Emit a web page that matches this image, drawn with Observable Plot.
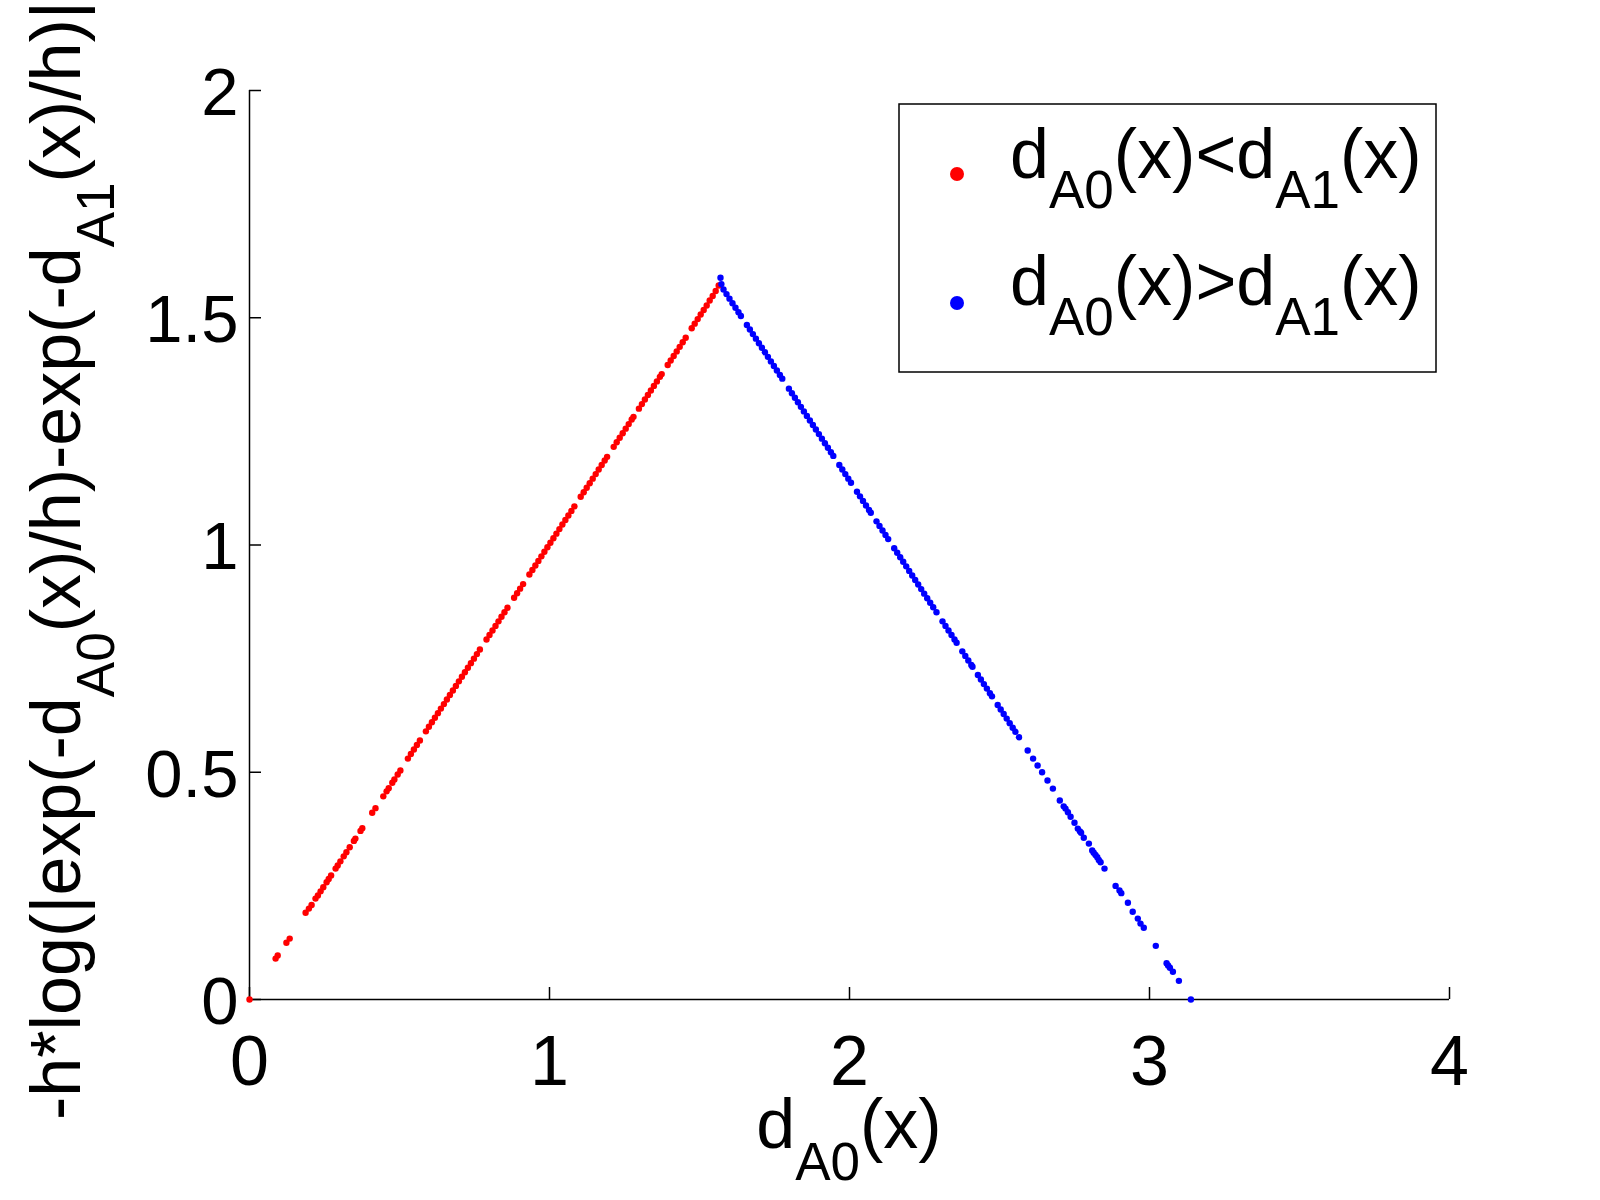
<!DOCTYPE html>
<html><head><meta charset="utf-8">
<script src="https://cdn.jsdelivr.net/npm/d3@7"></script>
<script src="https://cdn.jsdelivr.net/npm/@observablehq/plot@0.6"></script>
<style>body{margin:0;background:#fff}</style>
</head><body><div id="chart"></div>
<script>
// Tick values
const xTicks = [0, 1, 2, 3, 4];
const yTicks = [0, 0.5, 1, 1.5, 2];

// Legend entries: [text part, isSubscript]
const legendRed = [["d", false], ["A0", true], ["(x)<d", false], ["A1", true], ["(x)", false]];
const legendBlue = [["d", false], ["A0", true], ["(x)>d", false], ["A1", true], ["(x)", false]];
const xLabelParts = [["d", false], ["A0", true], ["(x)", false]];
const yLabelParts = [["-h*log(|exp(-d", false], ["A0", true], ["(x)/h)-exp(-d", false], ["A1", true], ["(x)/h)|", false]];

// Series: d_A0(x) < d_A1(x)  (red) — [x, y]
const redPoints = [
[0,0],[0.087,0.090],[0.094,0.097],[0.123,0.125],[0.134,0.134],
[0.187,0.191],[0.198,0.200],[0.207,0.208],[0.220,0.222],[0.228,0.229],[0.237,0.238],[0.246,0.247],[0.257,0.258],[0.264,0.265],[0.272,0.273],[0.287,0.288],[0.294,0.295],[0.303,0.304],[0.314,0.315],[0.323,0.324],[0.334,0.335],
[0.348,0.349],[0.353,0.354],[0.370,0.371],[0.376,0.377],
[0.409,0.411],[0.420,0.421],
[0.446,0.447],[0.457,0.458],[0.464,0.465],[0.476,0.477],[0.483,0.484],[0.494,0.495],[0.503,0.504],
[0.528,0.530],[0.538,0.540],[0.548,0.550],[0.558,0.560],[0.568,0.570],
[0.588,0.590],[0.598,0.600],[0.608,0.610],[0.618,0.620],[0.628,0.630],[0.638,0.640],[0.648,0.650],[0.658,0.660],[0.668,0.670],[0.678,0.680],[0.688,0.690],[0.698,0.700],[0.708,0.710],[0.718,0.720],[0.728,0.730],[0.738,0.740],[0.748,0.750],[0.758,0.760],[0.768,0.770],
[0.790,0.792],[0.800,0.802],[0.810,0.812],[0.820,0.822],[0.830,0.832],[0.840,0.842],[0.850,0.852],[0.860,0.862],
[0.882,0.884],[0.892,0.894],[0.902,0.904],[0.912,0.914],
[0.933,0.935],[0.943,0.945],[0.953,0.955],[0.963,0.965],[0.973,0.975],[0.983,0.985],[0.993,0.995],[1.003,1.005],[1.013,1.015],[1.023,1.025],[1.033,1.035],[1.043,1.045],[1.053,1.055],[1.063,1.065],[1.073,1.075],[1.083,1.085],
[1.104,1.106],[1.114,1.116],[1.124,1.126],[1.134,1.136],[1.144,1.146],[1.154,1.156],[1.164,1.166],[1.174,1.176],[1.184,1.186],[1.192,1.194],
[1.214,1.216],[1.224,1.226],[1.234,1.236],[1.244,1.246],[1.254,1.256],[1.264,1.266],[1.274,1.276],[1.280,1.282],
[1.298,1.300],[1.308,1.310],[1.318,1.320],[1.328,1.330],[1.338,1.340],[1.348,1.350],[1.358,1.360],[1.368,1.370],[1.374,1.376],
[1.394,1.396],[1.404,1.406],[1.414,1.416],[1.424,1.426],[1.434,1.436],[1.444,1.446],[1.454,1.456],
[1.474,1.477],[1.484,1.487],[1.494,1.497],[1.504,1.507],[1.514,1.517],[1.524,1.527],[1.534,1.538],[1.544,1.548],[1.554,1.559],[1.564,1.571]
];

// Series: d_A0(x) > d_A1(x)  (blue) — [x, y]
const bluePoints = [
[1.570,1.588],[1.573,1.574],[1.580,1.562],[1.590,1.552],[1.600,1.542],[1.610,1.532],[1.620,1.522],[1.630,1.512],[1.638,1.504],
[1.658,1.484],[1.668,1.474],[1.678,1.464],[1.688,1.454],[1.698,1.444],[1.708,1.434],[1.718,1.424],[1.728,1.414],[1.738,1.404],[1.748,1.394],[1.758,1.384],[1.768,1.374],[1.776,1.366],
[1.798,1.344],[1.808,1.334],[1.818,1.324],[1.828,1.314],[1.838,1.304],[1.848,1.294],[1.858,1.284],[1.868,1.274],[1.878,1.264],[1.888,1.254],[1.898,1.244],[1.908,1.234],[1.918,1.224],[1.928,1.214],[1.938,1.204],[1.946,1.196],
[1.966,1.176],[1.976,1.166],[1.986,1.156],[1.996,1.146],[2.005,1.137],
[2.025,1.117],[2.035,1.107],[2.045,1.097],[2.055,1.087],[2.065,1.077],[2.071,1.071],
[2.090,1.052],[2.100,1.042],[2.110,1.032],[2.120,1.022],[2.129,1.013],
[2.149,0.993],[2.159,0.983],[2.169,0.973],[2.179,0.963],[2.189,0.953],[2.199,0.943],[2.209,0.933],[2.219,0.923],[2.229,0.913],[2.239,0.903],[2.249,0.893],[2.259,0.883],[2.269,0.873],[2.279,0.863],[2.290,0.852],
[2.310,0.832],[2.320,0.822],[2.330,0.812],[2.340,0.802],[2.350,0.792],[2.357,0.785],
[2.376,0.766],[2.386,0.756],[2.396,0.746],[2.406,0.736],[2.410,0.732],
[2.428,0.714],[2.438,0.704],[2.448,0.694],[2.458,0.684],[2.468,0.674],[2.475,0.667],
[2.494,0.648],[2.504,0.638],[2.514,0.628],[2.524,0.618],[2.534,0.608],[2.544,0.598],[2.553,0.589],
[2.565,0.577],[2.594,0.548],[2.612,0.530],[2.627,0.515],[2.642,0.500],[2.660,0.482],[2.678,0.464],
[2.701,0.438],[2.714,0.425],[2.720,0.420],[2.728,0.412],[2.737,0.402],[2.750,0.389],[2.761,0.376],[2.768,0.370],[2.772,0.367],[2.781,0.356],[2.798,0.343],[2.809,0.328],[2.814,0.323],[2.820,0.318],[2.826,0.313],[2.831,0.307],[2.837,0.302],[2.850,0.288],
[2.887,0.250],[2.900,0.240],[2.906,0.234],[2.928,0.213],[2.944,0.193],[2.961,0.178],[2.970,0.167],[2.981,0.158],
[3.021,0.118],[3.057,0.080],[3.062,0.075],[3.068,0.070],[3.078,0.061],[3.098,0.041],[3.138,0.000]
];

const FONT = "'Liberation Sans', Arial, Helvetica, sans-serif";

const chart = Plot.plot({
  width: 1600,
  height: 1200,
  marginLeft: 249,
  marginRight: 151,
  marginTop: 90,
  marginBottom: 201,
  style: {background: "#fff", fontFamily: FONT, fontSize: "70px", color: "#000"},
  x: {domain: [0, 4]},
  y: {domain: [0, 2]},
  marks: [
    Plot.ruleX(xTicks, {insetTop: 897, stroke: "#000", strokeWidth: 1.5}),
    Plot.ruleY(yTicks, {insetRight: 1188, stroke: "#000", strokeWidth: 1.5}),
    Plot.ruleY([0], {stroke: "#000", strokeWidth: 1.5}),
    Plot.ruleX([0], {stroke: "#000", strokeWidth: 1.5}),
    Plot.axisX(xTicks, {tickSize: 0, tickPadding: 36, fontSize: 70, label: null, tickFormat: d => String(d)}),
    Plot.axisY(yTicks, {tickSize: 0, tickPadding: 11, fontSize: 67, dy: 3, label: null, tickFormat: d => String(d)}),
    Plot.dot(redPoints, {x: d => d[0], y: d => d[1], r: 3.2, fill: "#ff0000"}),
    Plot.dot(bluePoints, {x: d => d[0], y: d => d[1], r: 3.2, fill: "#0000ff"})
  ]
});
document.getElementById("chart").appendChild(chart);

const svg = d3.select(chart);
const SUB_SIZE = 53, MAIN_SIZE = 70;

function richText(sel, parts, shift) {
  let inSub = false;
  parts.forEach(([t, sub]) => {
    const ts = sel.append("tspan").text(t);
    if (sub && !inSub) { ts.attr("dy", shift).attr("font-size", SUB_SIZE); inSub = true; }
    else if (sub) { ts.attr("font-size", SUB_SIZE); }
    else if (!sub && inSub) { ts.attr("dy", -shift).attr("font-size", MAIN_SIZE); inSub = false; }
    else { ts.attr("font-size", MAIN_SIZE); }
  });
}

// X axis label
const xl = svg.append("text")
  .attr("x", 849).attr("y", 1148)
  .attr("text-anchor", "middle")
  .attr("font-family", FONT).attr("fill", "#000");
richText(xl, xLabelParts, 32);

// Y axis label
const yl = svg.append("text")
  .attr("transform", "translate(80,1120) rotate(-90)")
  .attr("text-anchor", "start")
  .attr("font-family", FONT).attr("fill", "#000");
richText(yl, yLabelParts, 34);

// Legend
const lg = svg.append("g");
lg.append("rect").attr("x", 899).attr("y", 104).attr("width", 537).attr("height", 268)
  .attr("fill", "#fff").attr("stroke", "#000").attr("stroke-width", 1.5);
[[legendRed, "#ff0000", 174, 178], [legendBlue, "#0000ff", 303, 305]].forEach(([parts, col, my, by]) => {
  lg.append("circle").attr("cx", 957).attr("cy", my).attr("r", 7).attr("fill", col);
  const t = lg.append("text").attr("x", 1010).attr("y", by)
    .attr("text-anchor", "start")
    .attr("font-family", FONT).attr("fill", "#000");
  richText(t, parts, 30);
});
</script>
</body></html>
